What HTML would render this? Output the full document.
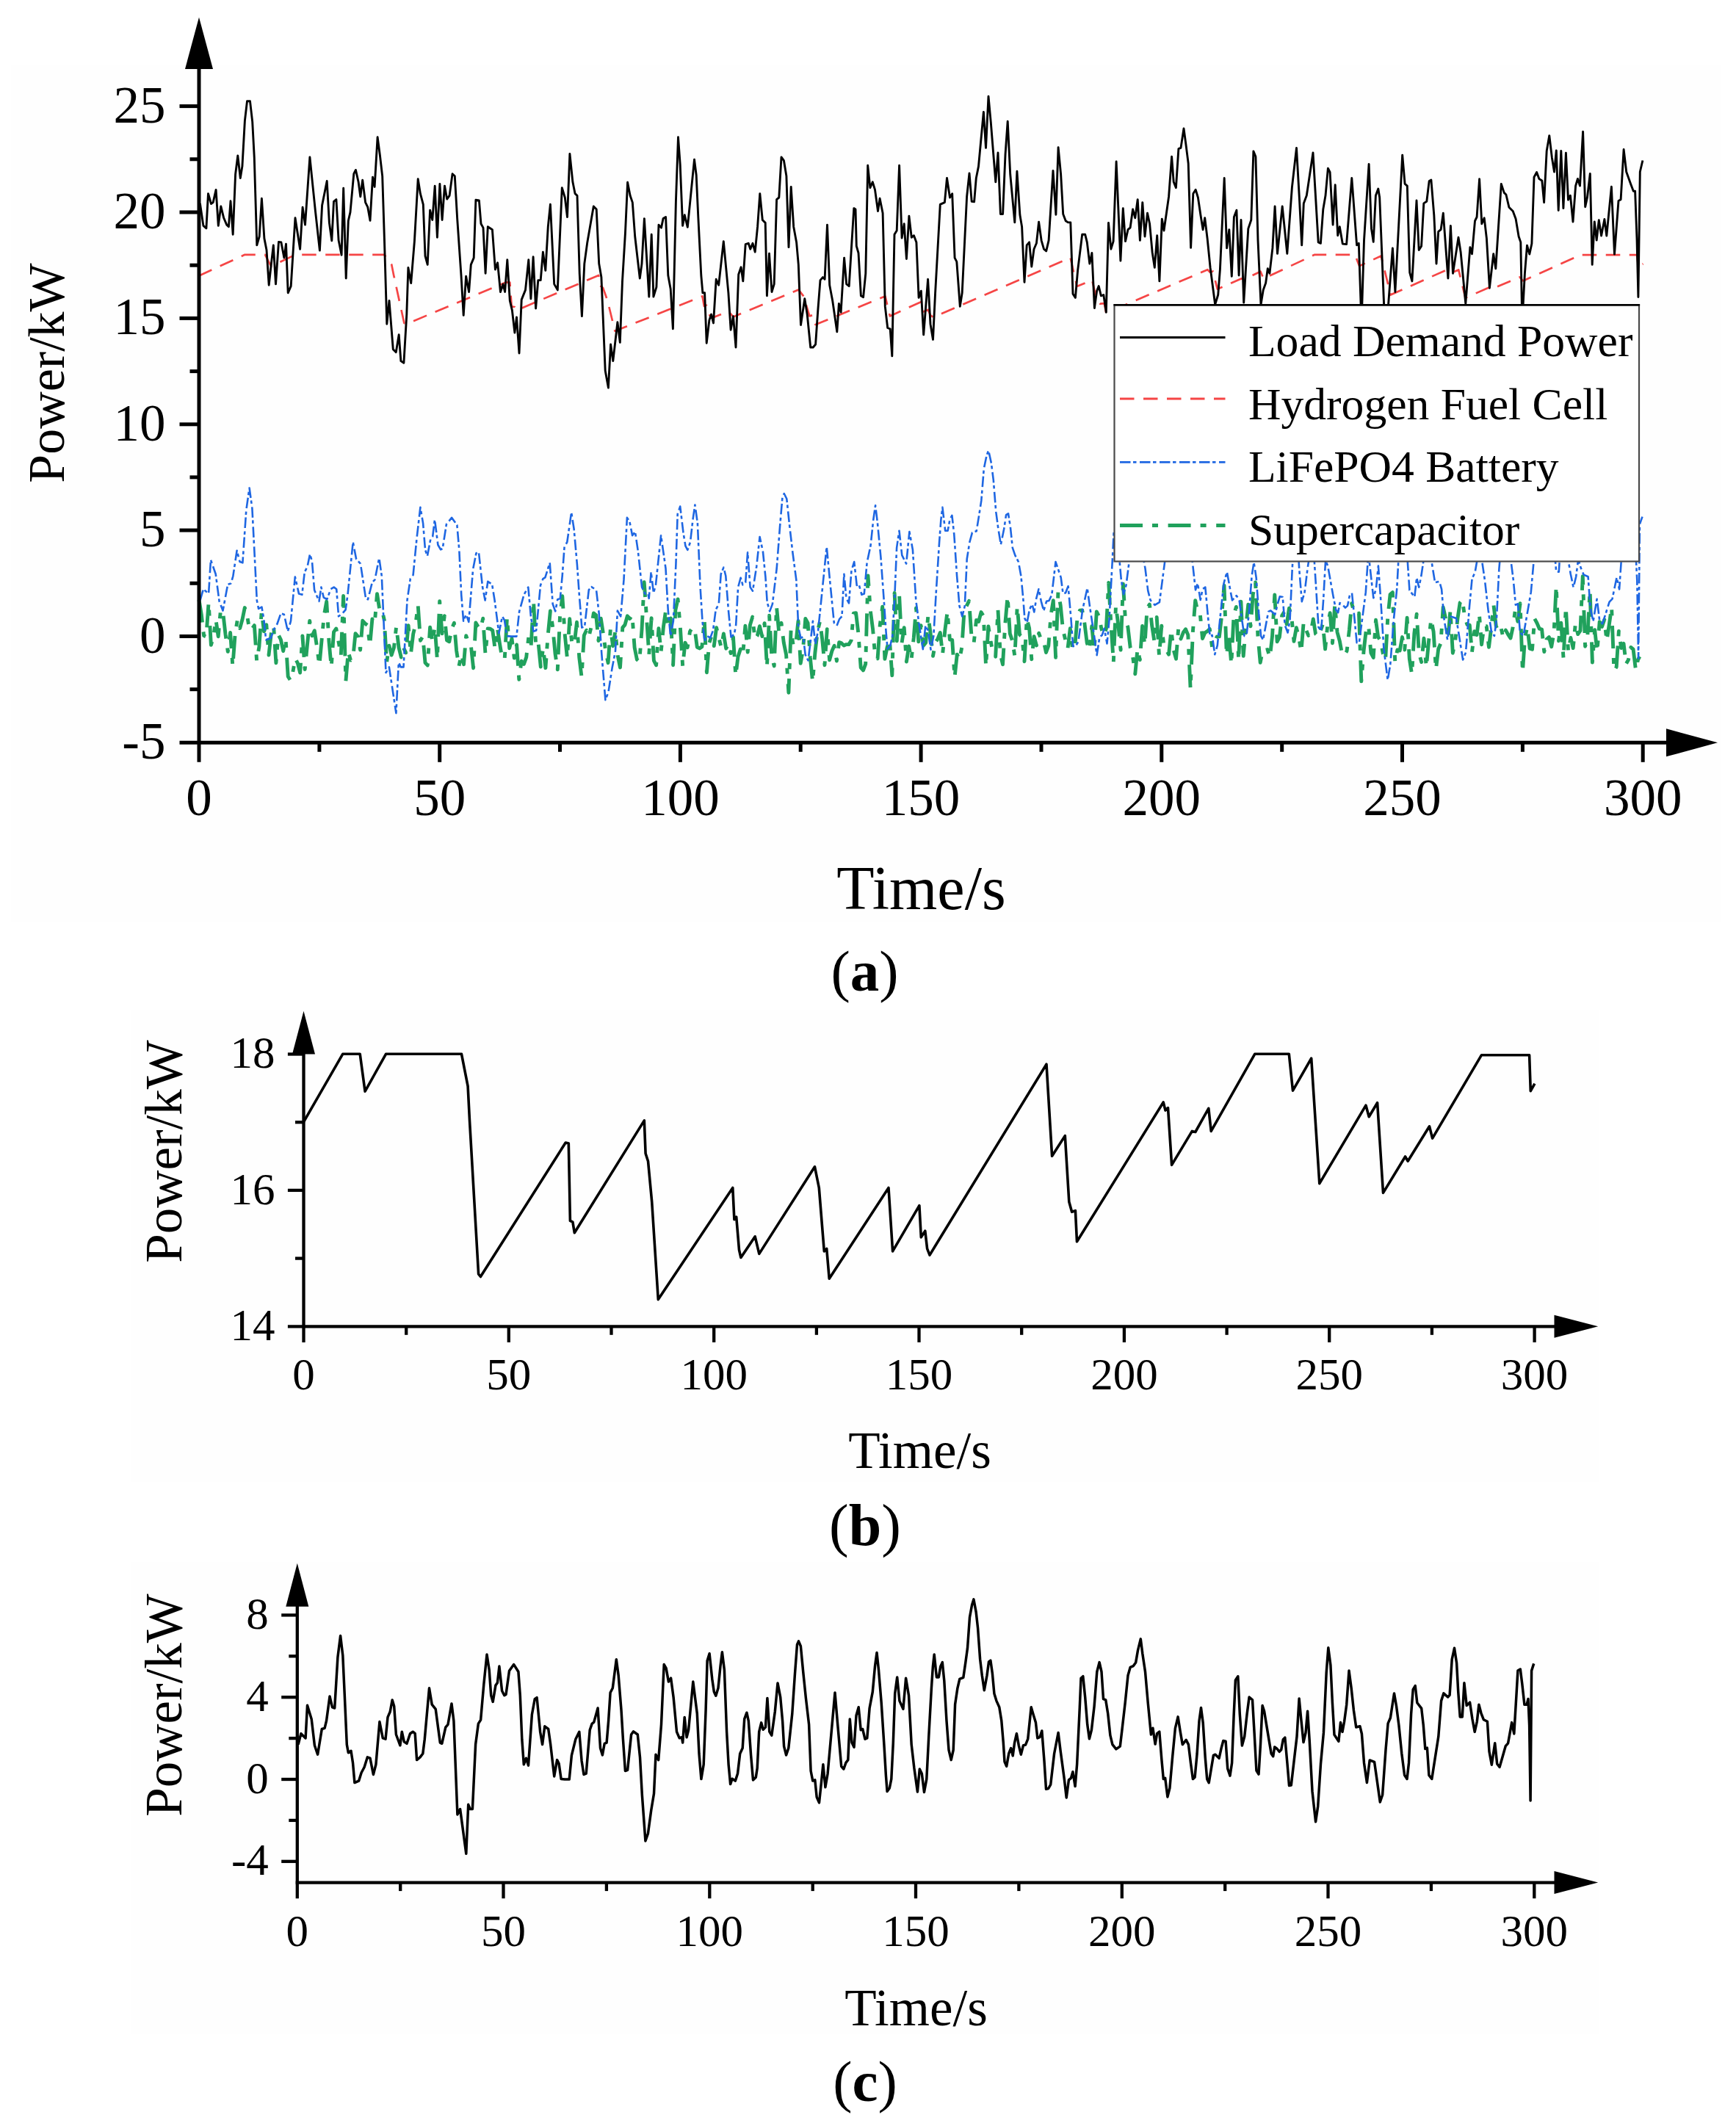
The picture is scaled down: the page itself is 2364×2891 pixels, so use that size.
<!DOCTYPE html>
<html lang="en"><head><meta charset="utf-8"><title>Power allocation</title>
<style>html,body{margin:0;padding:0;background:#fff;overflow:hidden}svg{display:block}</style></head>
<body>
<svg width="2364" height="2891" viewBox="0 0 2364 2891">
<rect width="2364" height="2891" fill="#fff"/>
<rect x="15" y="88" width="2328" height="1167" fill="#fefefe"/>
<rect x="179" y="1375" width="1998" height="643" fill="#fefefe"/>
<rect x="179" y="2127" width="1998" height="643" fill="#fefefe"/>
<g fill="none" stroke-linejoin="round">
<path d="M271.0,816.8 L274.3,836.9 L277.6,865.6 L280.8,867.1 L284.1,820.5 L287.4,878.4 L290.7,866.9 L293.9,843.6 L297.2,866.7 L300.5,830.3 L303.8,835.2 L307.0,863.6 L310.3,887.4 L313.6,861.5 L316.9,907.2 L320.2,863.0 L323.4,843.7 L326.7,855.5 L330.0,843.7 L333.3,827.6 L336.5,837.8 L339.8,858.2 L343.1,856.6 L346.4,851.7 L349.6,899.8 L352.9,880.6 L356.2,833.3 L359.5,859.9 L362.8,850.8 L366.0,892.0 L369.3,862.8 L372.6,852.3 L375.9,902.8 L379.1,864.4 L382.4,871.0 L385.7,886.6 L389.0,869.5 L392.2,921.2 L395.5,926.5 L398.8,915.2 L402.1,896.6 L405.4,903.2 L408.6,916.0 L411.9,866.0 L415.2,911.6 L418.5,877.6 L421.7,845.5 L425.0,865.9 L428.3,858.8 L431.6,881.1 L434.9,906.1 L438.1,871.4 L441.4,837.5 L444.7,819.1 L448.0,873.6 L451.2,908.2 L454.5,860.6 L457.8,856.0 L461.1,874.0 L464.3,892.8 L467.6,811.5 L470.9,927.6 L474.2,887.5 L477.5,899.1 L480.7,895.7 L484.0,862.7 L487.3,866.6 L490.6,885.0 L493.8,845.3 L497.1,849.0 L500.4,851.5 L503.7,878.9 L506.9,843.0 L510.2,848.9 L513.5,808.6 L516.8,829.9 L520.1,829.7 L523.3,844.4 L526.6,902.1 L529.9,879.1 L533.2,892.1 L536.4,882.1 L539.7,853.2 L543.0,881.6 L546.3,895.0 L549.5,882.2 L552.8,888.9 L556.1,851.6 L559.4,890.8 L562.7,863.3 L565.9,850.0 L569.2,824.0 L572.5,872.3 L575.8,866.8 L579.0,902.6 L582.3,905.9 L585.6,854.1 L588.9,874.2 L592.1,854.0 L595.4,898.1 L598.7,818.7 L602.0,862.8 L605.3,838.6 L608.5,871.9 L611.8,873.8 L615.1,856.6 L618.4,848.3 L621.6,886.0 L624.9,907.5 L628.2,891.0 L631.5,904.7 L634.7,865.6 L638.0,875.3 L641.3,878.9 L644.6,909.7 L647.9,848.0 L651.1,853.4 L654.4,856.3 L657.7,842.2 L661.0,890.7 L664.2,855.9 L667.5,856.2 L670.8,858.6 L674.1,883.5 L677.3,855.2 L680.6,877.2 L683.9,896.8 L687.2,897.0 L690.5,841.1 L693.7,882.7 L697.0,869.6 L700.3,896.1 L703.6,878.0 L706.8,925.3 L710.1,900.2 L713.4,904.4 L716.7,895.1 L719.9,867.0 L723.2,878.9 L726.5,817.8 L729.8,880.5 L733.1,875.9 L736.3,908.0 L739.6,882.6 L742.9,909.6 L746.2,864.6 L749.4,832.0 L752.7,853.9 L756.0,889.9 L759.3,911.9 L762.5,840.0 L765.8,811.8 L769.1,862.9 L772.4,896.2 L775.7,842.6 L778.9,877.8 L782.2,876.0 L785.5,847.3 L788.8,895.8 L792.0,921.4 L795.3,865.3 L798.6,858.2 L801.9,866.8 L805.2,853.4 L808.4,835.0 L811.7,837.6 L815.0,872.5 L818.3,842.3 L821.5,863.3 L824.8,886.7 L828.1,902.7 L831.4,855.8 L834.6,879.7 L837.9,859.5 L841.2,892.7 L844.5,908.9 L847.8,854.7 L851.0,850.9 L854.3,838.8 L857.6,842.5 L860.9,837.8 L864.1,881.8 L867.4,898.2 L870.7,901.1 L874.0,857.6 L877.2,792.8 L880.5,840.7 L883.8,891.2 L887.1,841.7 L890.4,899.6 L893.6,905.8 L896.9,855.8 L900.2,887.2 L903.5,853.1 L906.7,830.9 L910.0,853.5 L913.3,841.9 L916.6,905.7 L919.8,830.8 L923.1,815.9 L926.4,855.0 L929.7,907.3 L933.0,875.1 L936.2,881.7 L939.5,860.0 L942.8,854.6 L946.1,857.0 L949.3,881.2 L952.6,882.9 L955.9,880.7 L959.2,843.9 L962.4,915.7 L965.7,875.7 L969.0,866.2 L972.3,879.6 L975.6,854.6 L978.8,868.2 L982.1,881.3 L985.4,863.0 L988.7,883.2 L991.9,877.0 L995.2,889.6 L998.5,867.6 L1001.8,920.2 L1005.0,894.3 L1008.3,883.9 L1011.6,892.1 L1014.9,852.2 L1018.2,888.1 L1021.4,851.1 L1024.7,840.1 L1028.0,870.1 L1031.3,865.6 L1034.5,852.7 L1037.8,866.5 L1041.1,848.7 L1044.4,908.0 L1047.6,838.2 L1050.9,894.5 L1054.2,906.9 L1057.5,826.1 L1060.8,861.8 L1064.0,848.3 L1067.3,875.3 L1070.6,891.6 L1073.9,943.2 L1077.1,857.6 L1080.4,880.2 L1083.7,876.9 L1087.0,845.4 L1090.2,903.4 L1093.5,884.8 L1096.8,842.5 L1100.1,848.4 L1103.4,895.9 L1106.6,928.5 L1109.9,888.9 L1113.2,860.4 L1116.5,846.4 L1119.7,870.3 L1123.0,905.7 L1126.3,856.7 L1129.6,898.8 L1132.9,886.5 L1136.1,879.3 L1139.4,900.0 L1142.7,874.6 L1146.0,875.9 L1149.2,879.0 L1152.5,877.6 L1155.8,877.6 L1159.1,872.2 L1162.3,835.2 L1165.6,834.7 L1168.9,862.8 L1172.2,909.2 L1175.5,912.8 L1178.7,904.2 L1182.0,783.9 L1185.3,831.7 L1188.6,857.0 L1191.8,894.4 L1195.1,896.8 L1198.4,850.0 L1201.7,826.2 L1204.9,897.3 L1208.2,881.1 L1211.5,871.7 L1214.8,919.8 L1218.1,807.5 L1221.3,872.8 L1224.6,810.4 L1227.9,876.2 L1231.2,854.7 L1234.4,901.1 L1237.7,880.0 L1241.0,898.3 L1244.3,868.3 L1247.5,827.9 L1250.8,873.9 L1254.1,851.7 L1257.4,879.2 L1260.7,875.1 L1263.9,837.7 L1267.2,863.4 L1270.5,893.3 L1273.8,875.0 L1277.0,870.0 L1280.3,861.5 L1283.6,890.7 L1286.9,857.7 L1290.1,832.9 L1293.4,871.0 L1296.7,871.4 L1300.0,922.4 L1303.3,891.1 L1306.5,898.2 L1309.8,881.6 L1313.1,830.6 L1316.4,824.8 L1319.6,818.4 L1322.9,865.4 L1326.2,875.0 L1329.5,844.4 L1332.7,846.5 L1336.0,833.6 L1339.3,839.1 L1342.6,907.4 L1345.9,853.0 L1349.1,873.0 L1352.4,890.5 L1355.7,894.1 L1359.0,830.3 L1362.2,890.7 L1365.5,904.8 L1368.8,849.6 L1372.1,812.0 L1375.3,862.8 L1378.6,872.7 L1381.9,893.6 L1385.2,825.7 L1388.5,864.3 L1391.7,867.2 L1395.0,900.7 L1398.3,842.0 L1401.6,855.3 L1404.8,897.8 L1408.1,866.6 L1411.4,879.0 L1414.7,862.2 L1418.0,872.0 L1421.2,873.1 L1424.5,888.5 L1427.8,879.4 L1431.1,837.3 L1434.3,817.6 L1437.6,895.4 L1440.9,806.4 L1444.2,824.5 L1447.4,856.9 L1450.7,871.0 L1454.0,883.2 L1457.3,855.8 L1460.6,884.8 L1463.8,879.5 L1467.1,841.3 L1470.4,831.3 L1473.7,831.0 L1476.9,848.8 L1480.2,875.5 L1483.5,885.0 L1486.8,852.8 L1490.0,885.5 L1493.3,832.9 L1496.6,839.4 L1499.9,856.4 L1503.2,865.6 L1506.4,856.0 L1509.7,793.4 L1513.0,851.5 L1516.3,901.5 L1519.5,824.9 L1522.8,851.0 L1526.1,885.1 L1529.4,795.2 L1532.6,845.9 L1535.9,853.8 L1539.2,882.0 L1542.5,893.8 L1545.8,917.8 L1549.0,884.1 L1552.3,898.5 L1555.6,852.5 L1558.9,878.3 L1562.1,828.2 L1565.4,823.0 L1568.7,852.4 L1572.0,873.8 L1575.2,840.5 L1578.5,892.9 L1581.8,852.2 L1585.1,880.6 L1588.4,885.7 L1591.6,891.2 L1594.9,857.9 L1598.2,885.4 L1601.5,897.2 L1604.7,856.1 L1608.0,870.0 L1611.3,861.3 L1614.6,856.8 L1617.8,864.7 L1621.1,937.8 L1624.4,859.8 L1627.7,817.6 L1631.0,832.7 L1634.2,835.4 L1637.5,869.6 L1640.8,861.7 L1644.1,859.7 L1647.3,856.4 L1650.6,881.3 L1653.9,874.6 L1657.2,866.9 L1660.4,866.9 L1663.7,838.0 L1667.0,797.3 L1670.3,891.8 L1673.6,867.0 L1676.8,904.5 L1680.1,837.9 L1683.4,826.4 L1686.7,899.5 L1689.9,819.2 L1693.2,893.3 L1696.5,854.9 L1699.8,823.1 L1703.0,852.9 L1706.3,808.9 L1709.6,793.1 L1712.9,865.8 L1716.2,902.4 L1719.4,885.5 L1722.7,885.4 L1726.0,884.5 L1729.3,895.0 L1732.5,866.6 L1735.8,810.0 L1739.1,873.8 L1742.4,867.6 L1745.7,838.3 L1748.9,833.2 L1752.2,850.0 L1755.5,828.2 L1758.8,839.7 L1762.0,873.3 L1765.3,854.7 L1768.6,867.4 L1771.9,887.8 L1775.1,848.2 L1778.4,857.3 L1781.7,865.4 L1785.0,860.6 L1788.3,842.9 L1791.5,863.2 L1794.8,866.7 L1798.1,859.4 L1801.4,849.9 L1804.6,883.9 L1807.9,850.7 L1811.2,834.7 L1814.5,875.7 L1817.7,823.3 L1821.0,860.8 L1824.3,872.8 L1827.6,890.8 L1830.9,892.1 L1834.1,886.4 L1837.4,857.7 L1840.7,821.6 L1844.0,833.6 L1847.2,837.2 L1850.5,835.1 L1853.8,927.8 L1857.1,885.9 L1860.3,858.2 L1863.6,852.2 L1866.9,889.1 L1870.2,895.5 L1873.5,844.3 L1876.7,867.5 L1880.0,872.3 L1883.3,890.1 L1886.6,899.1 L1889.8,840.8 L1893.1,809.3 L1896.4,806.7 L1899.7,901.4 L1902.9,884.9 L1906.2,886.0 L1909.5,867.6 L1912.8,884.9 L1916.1,841.1 L1919.3,897.1 L1922.6,917.9 L1925.9,862.2 L1929.2,836.3 L1932.4,889.9 L1935.7,901.6 L1939.0,869.1 L1942.3,908.5 L1945.5,873.8 L1948.8,842.9 L1952.1,860.2 L1955.4,911.5 L1958.7,883.8 L1961.9,876.1 L1965.2,827.0 L1968.5,841.8 L1971.8,870.6 L1975.0,831.2 L1978.3,889.2 L1981.6,874.1 L1984.9,842.4 L1988.1,820.8 L1991.4,816.8 L1994.7,840.8 L1998.0,850.6 L2001.3,851.2 L2004.5,887.9 L2007.8,859.8 L2011.1,864.5 L2014.4,836.3 L2017.6,877.7 L2020.9,852.7 L2024.2,852.8 L2027.5,881.3 L2030.7,854.8 L2034.0,824.4 L2037.3,852.8 L2040.6,859.7 L2043.9,854.5 L2047.1,868.9 L2050.4,858.1 L2053.7,864.2 L2057.0,869.0 L2060.2,854.0 L2063.5,829.9 L2066.8,846.2 L2070.1,821.6 L2073.4,915.6 L2076.6,867.8 L2079.9,853.9 L2083.2,883.1 L2086.5,884.3 L2089.7,842.4 L2093.0,848.5 L2096.3,856.2 L2099.6,857.1 L2102.8,887.6 L2106.1,870.5 L2109.4,867.7 L2112.7,880.7 L2116.0,862.2 L2119.2,798.1 L2122.5,872.8 L2125.8,848.1 L2129.1,897.2 L2132.3,826.6 L2135.6,887.1 L2138.9,868.5 L2142.2,882.6 L2145.4,849.0 L2148.7,863.6 L2152.0,858.9 L2155.3,784.6 L2158.6,880.2 L2161.8,867.0 L2165.1,803.8 L2168.4,902.1 L2171.7,857.6 L2174.9,887.5 L2178.2,846.6 L2181.5,853.5 L2184.8,843.8 L2188.0,873.1 L2191.3,850.6 L2194.6,827.0 L2197.9,913.5 L2201.2,908.3 L2204.4,859.4 L2207.7,882.5 L2211.0,876.4 L2214.3,903.9 L2217.5,898.4 L2220.8,881.5 L2224.1,884.2 L2227.4,911.7 L2230.6,898.2 L2233.9,892.3 L2237.2,888.3" stroke="#20a15c" stroke-width="4.9" stroke-dasharray="31 13 8 13.6"/>
<path d="M272.6,817.5 L276.9,802.2 L284.1,808.6 L287.0,762.5 L293.7,781.7 L298.6,818.8 L303.5,831.6 L310.2,795.8 L314.5,794.5 L317.4,784.3 L322.6,749.7 L326.6,765.1 L330.4,766.3 L335.3,694.7 L339.6,664.5 L343.4,692.1 L346.3,748.4 L349.8,817.5 L352.1,829.0 L356.4,826.5 L359.3,843.1 L362.2,871.3 L368.8,868.7 L372.9,857.2 L377.5,849.5 L382.4,835.4 L386.8,836.7 L392.0,859.7 L396.0,845.7 L401.8,785.5 L407.0,808.6 L411.3,809.8 L414.8,779.1 L418.6,771.5 L422.0,754.8 L424.9,763.8 L428.1,803.4 L434.5,818.8 L437.4,799.6 L440.8,813.7 L445.2,816.2 L450.4,802.2 L454.7,799.6 L458.2,802.2 L461.1,839.3 L466.3,835.4 L470.6,830.3 L473.5,809.8 L480.7,738.2 L485.1,761.2 L490.9,767.6 L498.1,815.0 L501.0,816.2 L506.8,793.2 L510.5,789.4 L516.3,759.9 L519.8,784.3 L525.5,916.0 L529.9,908.4 L539.4,971.1 L542.9,902.0 L545.8,908.4 L549.5,908.4 L554.5,817.5 L558.8,788.1 L562.6,783.0 L567.5,733.1 L572.4,690.9 L576.1,712.6 L579.0,748.4 L581.9,757.4 L586.3,734.4 L589.2,730.5 L592.0,707.5 L596.4,742.0 L600.1,748.4 L602.7,747.1 L607.9,713.9 L615.2,704.9 L622.4,715.2 L625.3,748.4 L628.2,809.8 L631.1,845.7 L634.8,836.7 L638.3,846.9 L644.1,775.3 L648.4,753.5 L651.9,751.5 L657.1,799.6 L660.6,817.5 L664.3,791.9 L670.1,795.8 L673.6,817.5 L679.4,862.3 L684.0,839.3 L686.9,844.4 L690.3,866.1 L696.1,866.6 L703.4,866.6 L707.1,832.9 L713.5,809.8 L719.3,799.6 L723.0,840.5 L726.5,859.7 L730.2,858.5 L736.0,797.0 L739.5,788.1 L742.4,786.3 L748.7,766.3 L752.7,822.6 L756.2,832.4 L759.3,816.2 L762.8,815.0 L765.7,784.3 L768.6,744.6 L772.3,738.2 L778.1,697.8 L781.6,720.3 L785.9,768.9 L788.8,809.8 L792.3,854.6 L796.1,853.3 L801.8,803.4 L805.3,799.1 L812.0,803.4 L815.7,835.4 L819.2,889.2 L824.4,953.1 L828.4,942.9 L833.6,909.6 L838.0,886.6 L840.9,831.6 L845.2,839.3 L849.5,789.4 L853.9,704.9 L857.3,710.0 L861.1,729.2 L864.9,724.1 L868.9,751.0 L874.1,799.6 L878.5,808.6 L882.2,807.3 L883.7,815.0 L886.6,779.1 L890.0,807.3 L892.9,797.0 L900.1,729.2 L906.5,774.0 L909.7,830.3 L913.1,866.1 L916.9,845.7 L920.4,768.9 L922.7,699.8 L926.2,689.6 L930.5,725.4 L933.4,743.3 L936.3,748.9 L940.0,738.2 L943.5,707.5 L946.4,687.5 L949.9,712.6 L953.6,799.6 L956.5,845.7 L959.4,873.3 L962.3,865.6 L967.2,868.7 L971.0,858.5 L974.7,830.3 L978.8,822.6 L981.7,781.7 L985.4,772.7 L988.3,784.3 L992.1,832.9 L995.5,867.4 L999.9,863.6 L1002.2,850.8 L1005.1,799.6 L1008.6,786.8 L1011.4,796.5 L1015.2,793.2 L1018.1,752.3 L1021.6,799.6 L1025.0,804.7 L1030.2,771.5 L1034.6,731.0 L1038.9,751.0 L1042.4,785.5 L1044.7,820.1 L1048.2,832.4 L1051.9,822.6 L1057.7,774.0 L1062.0,717.7 L1065.5,676.8 L1067.8,672.2 L1071.3,679.3 L1075.1,715.2 L1079.4,752.3 L1084.3,789.4 L1087.2,854.6 L1090.4,868.7 L1093.8,867.4 L1096.7,891.7 L1100.5,899.4 L1104.0,871.3 L1106.9,845.7 L1110.3,877.7 L1114.1,858.5 L1125.7,744.6 L1130.0,789.4 L1135.8,848.2 L1139.5,852.1 L1143.0,843.1 L1146.5,839.3 L1149.4,781.7 L1152.5,815.0 L1156.0,821.4 L1159.5,776.6 L1163.2,765.1 L1166.7,797.0 L1169.6,795.8 L1173.4,809.8 L1176.8,808.6 L1180.6,766.3 L1185.5,743.3 L1189.3,707.5 L1192.1,688.3 L1195.0,712.6 L1199.4,758.7 L1203.7,817.5 L1206.6,861.0 L1208.6,883.5 L1212.4,878.9 L1215.3,866.1 L1218.2,815.0 L1221.1,745.9 L1224.5,722.8 L1228.3,756.1 L1234.1,767.6 L1238.4,724.1 L1242.9,748.4 L1247.3,817.5 L1251.6,850.8 L1256.8,884.1 L1260.3,852.1 L1263.7,858.5 L1267.5,884.6 L1271.3,866.1 L1274.7,807.3 L1279.1,738.2 L1281.4,707.5 L1283.4,690.9 L1287.2,722.8 L1290.6,722.8 L1293.5,707.5 L1296.4,701.9 L1299.3,728.0 L1303.1,784.3 L1306.5,825.2 L1310.3,839.3 L1313.8,825.2 L1316.7,761.2 L1320.4,738.2 L1323.9,725.4 L1329.7,723.3 L1333.1,702.4 L1336.3,681.9 L1339.8,638.4 L1343.5,620.5 L1346.1,613.3 L1349.9,630.7 L1352.8,653.7 L1356.3,697.2 L1359.4,720.3 L1362.9,741.3 L1367.2,720.3 L1370.1,701.1 L1373.0,699.3 L1375.9,717.7 L1378.8,745.9 L1382.3,756.1 L1386.9,765.1 L1390.4,784.3 L1393.3,815.0 L1395.3,841.8 L1398.5,848.2 L1401.9,830.3 L1405.4,822.6 L1408.3,833.4 L1411.2,815.0 L1414.4,802.2 L1417.8,818.8 L1421.3,831.6 L1425.1,818.8 L1428.5,818.0 L1432.3,809.8 L1437.5,765.1 L1441.0,775.3 L1444.7,786.3 L1447.6,808.6 L1451.1,807.3 L1454.6,798.3 L1458.3,840.5 L1461.2,880.2 L1465.0,879.4 L1468.4,873.8 L1474.2,830.3 L1480.6,800.9 L1484.3,827.8 L1490.1,866.1 L1493.6,892.2 L1497.4,867.4 L1500.8,864.9 L1503.7,855.9 L1507.5,876.4 L1510.4,845.7 L1514.7,765.1 L1516.7,724.1 L1519.9,721.6 L1523.4,751.0 L1526.8,789.4 L1530.0,809.3 L1533.5,797.0 L1537.8,763.8 L1542.2,715.2 L1545.9,701.9 L1549.4,715.2 L1552.3,753.5 L1556.0,754.8 L1559.5,774.0 L1563.3,804.7 L1566.7,817.5 L1572.5,823.9 L1578.9,820.1 L1581.8,798.3 L1587.0,758.7 L1591.3,720.3 L1595.1,708.8 L1600.0,707.0 L1603.7,702.4 L1607.2,684.5 L1611.6,669.1 L1614.4,689.6 L1618.8,715.2 L1623.1,758.7 L1628.0,803.4 L1630.9,794.5 L1634.7,817.0 L1637.6,802.2 L1641.3,799.6 L1644.8,838.0 L1647.7,866.1 L1650.6,864.9 L1654.3,891.2 L1657.8,878.9 L1662.1,835.4 L1666.5,794.5 L1670.8,778.6 L1674.6,799.6 L1678.0,817.5 L1683.8,811.1 L1687.6,817.5 L1691.1,843.1 L1694.5,866.1 L1697.7,863.6 L1701.2,830.3 L1704.6,784.3 L1707.5,765.8 L1710.7,786.8 L1714.2,835.4 L1717.1,866.1 L1720.0,871.3 L1723.4,853.3 L1727.2,832.9 L1730.3,831.5 L1736.3,836.8 L1739.8,822.3 L1742.8,812.2 L1746.7,813.0 L1749.7,851.4 L1753.6,861.5 L1756.6,843.5 L1759.6,777.3 L1762.3,726.9 L1766.2,721.6 L1769.2,774.6 L1772.8,819.1 L1776.6,806.4 L1780.5,774.6 L1784.1,750.8 L1789.2,754.8 L1792.2,801.1 L1795.5,854.1 L1799.1,859.4 L1802.1,817.0 L1805.1,762.7 L1808.1,770.6 L1811.7,790.5 L1815.5,811.7 L1819.1,830.2 L1822.1,834.2 L1824.5,821.0 L1828.4,823.6 L1832.0,827.6 L1835.0,824.9 L1838.0,810.4 L1841.0,807.7 L1844.6,843.5 L1847.6,875.2 L1850.9,874.7 L1855.3,840.8 L1859.8,806.4 L1863.4,752.9 L1866.4,779.9 L1870.3,814.3 L1873.9,801.1 L1876.9,770.6 L1879.9,811.7 L1884.4,883.2 L1889.7,926.1 L1893.3,904.4 L1897.8,844.8 L1902.3,801.1 L1906.8,716.4 L1909.8,681.4 L1913.4,705.8 L1916.4,758.7 L1919.4,803.7 L1926.3,813.0 L1929.2,786.5 L1932.2,799.8 L1935.2,785.2 L1938.8,761.4 L1942.7,713.7 L1946.3,737.5 L1950.2,769.3 L1954.1,793.1 L1960.1,791.8 L1963.1,802.4 L1966.6,843.5 L1971.1,871.3 L1975.6,839.5 L1983.1,842.1 L1987.6,869.9 L1992.1,898.5 L1996.0,888.5 L2001.1,824.9 L2004.6,787.9 L2008.5,779.9 L2014.5,745.5 L2018.1,764.0 L2022.0,790.5 L2026.5,830.2 L2031.0,860.7 L2034.9,866.0 L2037.9,843.5 L2041.4,774.6 L2044.4,740.2 L2048.0,734.9 L2051.0,758.7 L2057.9,766.7 L2060.9,790.5 L2063.9,823.6 L2066.9,822.3 L2069.9,860.7 L2074.4,866.0 L2078.8,840.8 L2084.8,806.4 L2089.3,756.1 L2093.2,745.5 L2099.8,750.8 L2102.8,748.1 L2106.4,697.8 L2110.3,681.9 L2113.9,703.1 L2116.2,742.8 L2119.2,778.6 L2122.8,778.6 L2125.8,730.9 L2129.7,762.7 L2134.8,758.2 L2138.7,781.2 L2142.6,799.8 L2146.2,785.2 L2149.2,761.4 L2152.7,773.3 L2156.6,782.6 L2162.6,785.2 L2165.6,827.6 L2169.5,846.1 L2174.6,815.7 L2178.2,844.8 L2182.1,849.3 L2186.6,835.5 L2191.6,819.6 L2195.5,815.7 L2201.5,786.5 L2205.1,802.4 L2209.0,745.5 L2211.1,713.7 L2215.0,711.6 L2218.0,732.2 L2221.6,761.4 L2225.5,761.4 L2227.5,753.4 L2229.3,790.5 L2231.1,896.4 L2232.9,713.7 L2236.5,703.6" stroke="#1e66e2" stroke-width="2.6" stroke-dasharray="14.5 3.5 4.5 4.5"/>
<path d="M270.6,375.7 L333.4,346.8 L361.0,346.8 L369.1,362.5 L402.4,346.8 L523.2,346.8 L533.3,360.4 L536.2,374.9 L550.4,440.0 L553.6,441.1 L689.4,384.3 L694.3,384.6 L696.7,417.4 L700.8,418.0 L703.6,422.5 L815.1,374.9 L817.1,388.9 L821.2,392.1 L827.3,409.4 L837.4,450.8 L956.5,403.4 L958.9,416.9 L962.1,415.8 L966.6,429.8 L969.4,433.0 L992.1,424.1 L998.6,431.4 L1087.4,394.5 L1094.3,403.4 L1102.4,430.4 L1106.5,429.3 L1110.5,442.0 L1205.4,403.4 L1211.9,430.4 L1254.5,411.0 L1257.3,424.4 L1263.8,421.7 L1267.0,429.3 L1271.1,432.0 L1457.6,351.0 L1466.5,390.0 L1487.2,381.4 L1493.7,409.4 L1498.1,413.7 L1503.8,413.1 L1506.3,426.3 L1644.4,367.2 L1647.6,370.6 L1651.7,369.5 L1657.8,393.7 L1690.2,379.4 L1695.5,379.8 L1716.5,369.7 L1720.6,379.4 L1790.3,346.8 L1845.1,346.8 L1851.1,362.2 L1880.7,348.5 L1893.7,401.6 L1967.9,368.4 L1972.8,373.3 L1986.2,367.4 L1995.5,405.6 L2030.8,390.2 L2034.8,392.1 L2069.3,377.4 L2074.1,382.4 L2152.6,347.1 L2229.0,347.1 L2231.0,362.4 L2237.5,359.3" stroke="#f54545" stroke-width="2.7" stroke-dasharray="19.5 12.5"/>
<path d="M272.4,276.9 L276.9,307.4 L280.9,310.9 L283.5,263.7 L287.5,277.5 L290.2,275.6 L294.1,258.4 L297.3,307.4 L300.8,280.9 L304.7,296.8 L308.7,306.1 L311.4,308.7 L314.0,273.8 L317.2,319.3 L320.6,237.2 L323.8,212.0 L327.3,242.5 L329.9,226.6 L333.4,164.3 L336.5,137.8 L340.5,137.8 L343.7,165.6 L346.3,214.7 L349.8,333.9 L353.2,322.0 L356.4,270.3 L359.9,324.6 L363.0,340.5 L366.2,388.2 L369.7,356.4 L372.3,333.9 L375.5,386.9 L379.5,329.4 L382.9,329.9 L386.9,351.1 L389.5,332.1 L392.2,398.8 L396.2,389.6 L402.0,296.8 L408.6,339.2 L412.1,282.2 L415.5,306.1 L421.9,213.9 L429.3,286.2 L435.4,341.1 L438.6,279.6 L445.2,246.5 L448.4,303.4 L451.8,327.8 L454.5,274.3 L457.9,271.6 L461.1,327.3 L465.1,347.2 L467.7,256.3 L471.2,379.0 L474.3,300.8 L477.0,288.9 L481.8,236.7 L484.4,231.4 L488.1,247.8 L490.8,267.7 L493.7,245.1 L497.6,275.6 L500.8,282.2 L504.0,300.3 L507.5,241.2 L510.1,254.4 L514.1,186.8 L517.3,210.7 L520.7,239.8 L523.4,324.6 L526.8,441.2 L530.0,409.4 L535.3,475.7 L539.3,479.6 L543.2,455.8 L545.9,491.6 L549.9,494.2 L553.8,428.0 L555.9,364.4 L559.7,385.6 L564.4,328.6 L569.2,243.8 L572.4,263.7 L576.3,278.3 L579.0,348.5 L582.2,360.4 L585.6,286.2 L588.8,299.5 L592.2,253.1 L595.4,323.3 L598.9,250.4 L602.1,299.5 L605.5,253.1 L608.7,271.1 L612.1,266.3 L616.1,236.7 L619.3,239.8 L622.7,298.1 L628.0,375.0 L631.2,429.3 L634.6,376.3 L638.6,397.5 L641.3,360.4 L645.2,351.1 L647.9,272.2 L652.4,273.0 L655.0,304.8 L658.0,310.1 L661.1,372.3 L664.3,308.7 L670.4,312.7 L674.4,367.0 L677.6,357.8 L681.5,397.5 L685.0,386.9 L687.6,397.5 L690.8,353.8 L694.3,409.4 L697.4,422.7 L700.9,453.1 L703.5,431.9 L707.0,481.0 L710.2,408.1 L715.5,394.9 L719.8,353.8 L722.9,406.8 L726.1,349.8 L729.6,420.0 L732.8,381.6 L736.2,381.6 L739.4,343.2 L742.8,368.4 L746.3,308.7 L749.4,278.3 L754.7,386.9 L759.3,394.9 L765.3,255.7 L769.3,269.0 L772.5,295.5 L775.9,209.4 L779.9,247.8 L783.1,263.7 L786.0,266.3 L789.2,372.3 L792.4,430.6 L795.8,359.1 L799.8,329.9 L808.3,280.9 L812.2,284.9 L815.7,359.1 L818.9,377.6 L824.2,504.8 L828.4,528.1 L831.6,469.0 L834.8,491.6 L840.9,438.6 L844.3,466.4 L847.5,382.9 L851.5,316.7 L854.6,248.3 L858.1,266.3 L861.3,275.6 L864.7,322.0 L871.3,379.0 L874.0,359.1 L877.4,297.6 L883.8,404.1 L887.2,319.3 L889.9,404.1 L893.9,390.9 L897.0,306.1 L900.5,310.1 L903.1,297.6 L906.6,295.5 L909.8,375.0 L913.2,393.5 L916.4,447.8 L920.4,274.3 L923.5,186.8 L926.2,223.9 L929.6,307.4 L932.3,292.8 L936.3,309.3 L945.5,217.3 L948.2,238.5 L950.8,295.5 L954.8,375.0 L956.9,398.8 L959.6,398.8 L962.2,467.2 L965.9,435.9 L968.6,428.0 L971.5,439.9 L975.2,380.3 L978.7,388.2 L985.3,328.6 L991.9,398.8 L995.1,449.2 L998.5,430.6 L1002.0,473.0 L1005.7,373.7 L1009.1,363.8 L1011.8,382.9 L1015.2,332.6 L1019.2,331.3 L1021.8,339.2 L1025.0,331.3 L1028.2,343.2 L1031.6,308.7 L1034.8,263.7 L1038.3,299.5 L1042.2,303.4 L1044.4,402.8 L1047.5,345.3 L1051.0,397.5 L1054.2,386.9 L1057.6,271.6 L1060.8,269.0 L1064.0,213.9 L1067.4,218.6 L1070.9,239.8 L1074.0,336.6 L1077.2,254.4 L1080.7,308.7 L1084.6,329.9 L1087.3,360.4 L1090.5,442.5 L1095.8,406.8 L1099.2,428.0 L1103.7,473.0 L1107.2,473.0 L1110.6,469.0 L1113.8,422.7 L1117.0,381.6 L1120.4,377.6 L1123.1,380.3 L1126.5,306.1 L1129.7,388.2 L1133.7,409.4 L1139.8,451.8 L1142.4,413.4 L1145.1,425.3 L1149.6,351.1 L1152.7,386.9 L1156.2,389.6 L1162.8,283.6 L1165.0,284.9 L1166.3,335.2 L1169.0,344.5 L1172.4,402.8 L1175.6,404.7 L1178.8,372.3 L1181.7,225.3 L1184.9,255.7 L1188.3,247.8 L1191.5,258.4 L1195.5,287.5 L1198.1,270.3 L1202.1,290.2 L1205.3,417.4 L1208.7,446.5 L1212.2,447.8 L1214.8,484.9 L1218.0,319.3 L1221.2,314.0 L1224.6,225.3 L1228.1,324.1 L1231.2,304.8 L1234.4,352.5 L1237.9,294.2 L1241.3,323.3 L1244.5,320.7 L1247.9,329.9 L1251.1,405.4 L1254.3,396.2 L1257.7,455.8 L1263.6,380.3 L1267.0,441.2 L1270.5,462.4 L1273.6,398.8 L1280.3,278.3 L1286.4,275.6 L1289.5,242.5 L1293.5,269.0 L1296.7,263.7 L1300.1,351.1 L1302.8,356.4 L1307.3,417.4 L1310.2,398.8 L1316.6,267.7 L1320.0,235.9 L1323.2,274.3 L1326.6,274.8 L1329.3,242.5 L1332.5,226.6 L1339.4,152.4 L1342.5,201.4 L1346.0,131.2 L1349.2,165.6 L1352.3,204.1 L1355.8,247.8 L1359.0,208.0 L1362.4,291.5 L1365.6,291.5 L1369.0,210.7 L1372.2,165.1 L1375.7,237.2 L1381.8,302.9 L1384.9,233.2 L1388.9,292.8 L1391.6,308.7 L1395.0,384.3 L1398.2,333.9 L1401.6,329.9 L1404.8,363.1 L1408.0,339.2 L1411.4,331.3 L1414.6,302.1 L1418.1,327.3 L1421.5,339.2 L1424.7,341.9 L1428.1,327.3 L1434.0,232.4 L1437.9,292.3 L1441.1,200.6 L1444.6,237.2 L1447.7,291.5 L1451.2,300.8 L1454.4,302.9 L1457.8,302.9 L1461.0,400.1 L1464.4,405.4 L1467.6,368.4 L1473.7,319.3 L1477.7,319.3 L1480.3,329.9 L1483.8,359.1 L1486.9,344.5 L1490.4,419.5 L1493.6,396.2 L1496.2,389.6 L1499.4,402.8 L1502.8,401.5 L1506.3,425.3 L1509.5,303.4 L1512.9,339.2 L1516.1,328.6 L1520.1,220.0 L1525.9,355.1 L1529.3,283.6 L1532.5,328.6 L1536.0,312.7 L1539.1,310.1 L1542.6,284.9 L1545.8,296.8 L1549.2,271.6 L1552.4,327.3 L1555.8,275.6 L1559.0,322.0 L1562.5,290.2 L1565.6,304.8 L1569.1,343.2 L1572.3,364.4 L1575.7,320.7 L1578.9,382.9 L1582.3,298.1 L1585.0,314.0 L1591.6,267.7 L1595.6,213.3 L1598.2,247.8 L1601.4,255.7 L1604.9,202.7 L1608.0,201.4 L1612.0,174.9 L1615.0,197.4 L1618.2,222.6 L1621.6,337.4 L1624.8,263.7 L1628.2,258.4 L1631.4,269.0 L1634.9,292.8 L1638.1,312.7 L1640.7,296.8 L1644.1,324.6 L1648.1,364.4 L1654.7,414.7 L1658.7,401.5 L1661.4,367.0 L1667.2,242.5 L1670.6,337.9 L1673.8,312.7 L1677.3,376.3 L1680.4,295.5 L1683.9,286.2 L1687.1,375.0 L1690.0,299.5 L1693.7,412.1 L1699.8,311.4 L1703.8,299.5 L1706.9,205.9 L1709.9,213.3 L1713.0,327.3 L1717.0,414.7 L1720.2,394.9 L1723.6,385.6 L1726.3,365.7 L1728.9,372.3 L1732.9,337.9 L1736.1,280.9 L1739.5,345.3 L1746.2,280.9 L1752.8,345.3 L1759.4,255.2 L1765.5,201.4 L1769.5,271.6 L1772.7,333.9 L1775.3,276.9 L1779.3,266.3 L1788.0,208.0 L1795.2,329.9 L1798.4,331.3 L1801.8,284.9 L1805.0,266.3 L1808.4,229.2 L1811.1,234.5 L1815.1,306.1 L1818.2,251.8 L1821.7,320.7 L1824.3,308.7 L1828.3,332.1 L1833.6,332.6 L1840.8,242.5 L1847.6,333.9 L1850.3,331.3 L1854.0,441.2 L1857.5,327.3 L1864.1,223.4 L1867.5,311.4 L1870.2,329.4 L1873.4,266.3 L1876.8,257.1 L1878.7,269.0 L1885.8,443.9 L1890.6,414.7 L1896.4,337.9 L1899.9,397.5 L1909.7,211.2 L1913.1,250.4 L1916.3,253.1 L1919.7,371.0 L1922.9,382.9 L1929.0,273.0 L1932.2,340.5 L1935.6,335.2 L1938.8,276.9 L1942.8,274.3 L1946.2,246.5 L1948.9,245.1 L1952.8,292.8 L1956.0,359.1 L1958.7,315.4 L1962.1,312.7 L1965.3,290.2 L1971.9,379.0 L1975.4,307.4 L1978.5,372.3 L1986.0,323.3 L1989.1,343.2 L1995.8,413.4 L2001.9,336.6 L2004.5,345.8 L2008.5,300.8 L2011.1,295.5 L2014.6,243.8 L2017.8,304.8 L2021.2,296.8 L2024.4,324.6 L2028.4,392.2 L2033.7,345.8 L2036.8,365.7 L2044.3,250.4 L2048.2,262.4 L2050.9,265.0 L2054.9,282.2 L2060.2,287.5 L2064.1,298.1 L2068.1,322.0 L2070.8,329.9 L2072.8,439.1 L2076.4,372.3 L2079.5,334.2 L2082.8,346.1 L2085.9,331.8 L2089.0,241.2 L2092.6,234.5 L2095.9,243.5 L2099.8,245.9 L2102.6,275.7 L2106.2,205.4 L2109.8,184.6 L2113.4,214.9 L2116.5,234.0 L2119.3,204.9 L2122.2,286.5 L2125.8,205.4 L2128.9,283.6 L2132.4,208.3 L2135.5,272.2 L2138.4,266.2 L2142.0,302.0 L2145.6,253.1 L2148.4,243.5 L2151.5,253.1 L2155.6,179.2 L2158.7,281.7 L2161.5,268.6 L2165.3,236.4 L2168.2,360.4 L2171.3,302.0 L2174.2,327.0 L2177.3,299.6 L2180.6,321.1 L2184.9,298.4 L2187.8,321.1 L2194.4,254.3 L2198.5,346.1 L2204.0,273.4 L2207.1,271.7 L2211.1,203.5 L2214.7,234.0 L2220.7,250.7 L2224.3,260.2 L2226.6,260.2 L2229.0,324.6 L2230.9,404.5 L2233.3,234.0 L2236.9,218.5" stroke="#000" stroke-width="2.9" stroke-linejoin="round"/>
</g>
<g stroke="#000" stroke-width="5.0" fill="none">
<path d="M271.0,91.0 V1037.8"/>
<path d="M244.5,1011.3 H2272.0"/>
<path d="M244.5,866.5 H271.0"/>
<path d="M244.5,722.1 H271.0"/>
<path d="M244.5,577.8 H271.0"/>
<path d="M244.5,433.4 H271.0"/>
<path d="M244.5,289.0 H271.0"/>
<path d="M244.5,144.6 H271.0"/>
<path d="M258.5,938.7 H271.0"/>
<path d="M258.5,794.3 H271.0"/>
<path d="M258.5,649.9 H271.0"/>
<path d="M258.5,505.6 H271.0"/>
<path d="M258.5,361.2 H271.0"/>
<path d="M258.5,216.8 H271.0"/>
<path d="M434.9,1011.3 V1023.8"/>
<path d="M598.7,1011.3 V1037.8"/>
<path d="M762.5,1011.3 V1023.8"/>
<path d="M926.4,1011.3 V1037.8"/>
<path d="M1090.2,1011.3 V1023.8"/>
<path d="M1254.1,1011.3 V1037.8"/>
<path d="M1418.0,1011.3 V1023.8"/>
<path d="M1581.8,1011.3 V1037.8"/>
<path d="M1745.7,1011.3 V1023.8"/>
<path d="M1909.5,1011.3 V1037.8"/>
<path d="M2073.4,1011.3 V1023.8"/>
<path d="M2237.2,1011.3 V1037.8"/>
</g>
<path d="M271.0,23.5 L252.0,94.0 L290.0,94.0 Z" fill="#000"/>
<path d="M2339.0,1011.3 L2269.0,992.3 L2269.0,1030.3 Z" fill="#000"/>
<g font-family="&quot;Liberation Serif&quot;, serif" font-size="71.0" fill="#000">
<text x="225.5" y="1032.9" text-anchor="end">-5</text>
<text x="225.5" y="888.5" text-anchor="end">0</text>
<text x="225.5" y="744.1" text-anchor="end">5</text>
<text x="225.5" y="599.7" text-anchor="end">10</text>
<text x="225.5" y="455.4" text-anchor="end">15</text>
<text x="225.5" y="311.0" text-anchor="end">20</text>
<text x="225.5" y="166.6" text-anchor="end">25</text>
<text x="271.0" y="1110.3" text-anchor="middle">0</text>
<text x="598.7" y="1110.3" text-anchor="middle">50</text>
<text x="926.4" y="1110.3" text-anchor="middle">100</text>
<text x="1254.1" y="1110.3" text-anchor="middle">150</text>
<text x="1581.8" y="1110.3" text-anchor="middle">200</text>
<text x="1909.5" y="1110.3" text-anchor="middle">250</text>
<text x="2237.2" y="1110.3" text-anchor="middle">300</text>
</g>
<rect x="1517.5" y="415.5" width="714.5" height="349" fill="#fff" stroke="#4a4a4a" stroke-width="2.2"/>
<path d="M1516.4,415.3 H2233.1" stroke="#000" stroke-width="2.6" fill="none"/>
<g fill="none">
<path d="M1525,459.4 H1668.5" stroke="#000" stroke-width="3"/>
<path d="M1525,543 H1668.5" stroke="#f54545" stroke-width="3" stroke-dasharray="19.5 12.5"/>
<path d="M1525,629.4 H1668.5" stroke="#1e66e2" stroke-width="2.6" stroke-dasharray="14.5 3.5 4.5 4.5"/>
<path d="M1525,715.4 H1668.5" stroke="#20a15c" stroke-width="5" stroke-dasharray="31 13 8 13.6"/>
</g>
<g font-family="&quot;Liberation Serif&quot;, serif" font-size="61.6" fill="#000">
<text x="1700" y="485.0">Load Demand Power</text>
<text x="1700" y="570.6">Hydrogen Fuel Cell</text>
<text x="1700" y="656.2">LiFePO4 Battery</text>
<text x="1700" y="741.8">Supercapacitor</text>
</g>
<text font-family="&quot;Liberation Serif&quot;, serif" font-size="70" text-anchor="middle" transform="translate(86.5,508) rotate(-90)">Power/kW</text>
<text font-family="&quot;Liberation Serif&quot;, serif" font-size="84" text-anchor="middle" x="1254.5" y="1237.5">Time/s</text>
<text font-family="&quot;Liberation Serif&quot;, serif" font-size="79" text-anchor="middle" x="1177.5" y="1349">(<tspan font-weight="bold">a</tspan>)</text>
<path d="M413.2,1528.3 L466.7,1435.3 L490.2,1435.3 L497.1,1486.2 L525.5,1435.3 L628.5,1435.3 L637.1,1479.2 L639.5,1525.9 L651.6,1735.0 L654.4,1738.5 L770.2,1556.0 L774.3,1557.0 L776.4,1662.4 L779.9,1664.1 L782.3,1678.7 L877.3,1525.9 L879.1,1570.8 L882.5,1581.2 L887.7,1636.5 L896.3,1769.6 L997.8,1617.5 L999.9,1660.7 L1002.7,1657.2 L1006.5,1702.2 L1008.9,1712.5 L1028.2,1683.8 L1033.8,1707.4 L1109.5,1588.8 L1115.3,1617.5 L1122.3,1703.9 L1125.7,1700.4 L1129.2,1741.2 L1210.0,1617.5 L1215.6,1703.9 L1251.9,1641.7 L1254.3,1684.9 L1259.8,1676.2 L1262.6,1700.4 L1266.0,1709.1 L1425.0,1449.2 L1432.6,1574.3 L1450.3,1546.6 L1455.8,1636.5 L1459.6,1650.3 L1464.4,1648.6 L1466.5,1690.8 L1584.2,1501.0 L1587.0,1512.1 L1590.5,1508.6 L1595.6,1586.4 L1623.3,1540.4 L1627.8,1541.5 L1645.8,1509.3 L1649.2,1540.4 L1708.7,1435.3 L1755.3,1435.3 L1760.5,1485.1 L1785.7,1441.2 L1796.8,1611.6 L1860.0,1505.2 L1864.2,1520.7 L1875.6,1501.7 L1883.5,1624.4 L1913.6,1575.0 L1917.1,1581.2 L1946.5,1533.8 L1950.6,1550.1 L2017.5,1436.7 L2082.6,1436.7 L2084.3,1485.6 L2089.9,1475.7" fill="none" stroke="#000" stroke-width="3.6" stroke-linejoin="round"/>
<g stroke="#000" stroke-width="4.3" fill="none">
<path d="M413.5,1432.5 V1827.9"/>
<path d="M391.9,1806.3 H2119.5"/>
<path d="M402.0,1713.6 H413.5"/>
<path d="M391.9,1620.9 H413.5"/>
<path d="M402.0,1528.2 H413.5"/>
<path d="M391.9,1435.5 H413.5"/>
<path d="M553.2,1806.3 V1817.8"/>
<path d="M692.8,1806.3 V1827.9"/>
<path d="M832.5,1806.3 V1817.8"/>
<path d="M972.2,1806.3 V1827.9"/>
<path d="M1111.9,1806.3 V1817.8"/>
<path d="M1251.5,1806.3 V1827.9"/>
<path d="M1391.2,1806.3 V1817.8"/>
<path d="M1530.9,1806.3 V1827.9"/>
<path d="M1670.6,1806.3 V1817.8"/>
<path d="M1810.2,1806.3 V1827.9"/>
<path d="M1949.9,1806.3 V1817.8"/>
<path d="M2089.6,1806.3 V1827.9"/>
</g>
<path d="M413.5,1376.7 L398.0,1435.5 L429.0,1435.5 Z" fill="#000"/>
<path d="M2176.2,1806.3 L2116.5,1790.8 L2116.5,1821.8 Z" fill="#000"/>
<g font-family="&quot;Liberation Serif&quot;, serif" font-size="61.0" fill="#000">
<text x="374.5" y="1824.9" text-anchor="end">14</text>
<text x="374.5" y="1639.5" text-anchor="end">16</text>
<text x="374.5" y="1454.1" text-anchor="end">18</text>
<text x="413.5" y="1891.6" text-anchor="middle">0</text>
<text x="692.8" y="1891.6" text-anchor="middle">50</text>
<text x="972.2" y="1891.6" text-anchor="middle">100</text>
<text x="1251.5" y="1891.6" text-anchor="middle">150</text>
<text x="1530.9" y="1891.6" text-anchor="middle">200</text>
<text x="1810.2" y="1891.6" text-anchor="middle">250</text>
<text x="2089.6" y="1891.6" text-anchor="middle">300</text>
</g>
<text font-family="&quot;Liberation Serif&quot;, serif" font-size="71" text-anchor="middle" transform="translate(247,1568) rotate(-90)">Power/kW</text>
<text font-family="&quot;Liberation Serif&quot;, serif" font-size="71" text-anchor="middle" x="1252.5" y="1999.3">Time/s</text>
<text font-family="&quot;Liberation Serif&quot;, serif" font-size="80" text-anchor="middle" x="1178" y="2103.5">(<tspan font-weight="bold">b</tspan>)</text>
<path d="M406.1,2375.6 L409.9,2360.7 L416.1,2366.9 L418.5,2322.3 L424.2,2340.9 L428.4,2376.8 L432.6,2389.2 L438.3,2354.5 L442.1,2353.3 L444.5,2343.4 L449.0,2309.9 L452.5,2324.8 L455.7,2326.0 L459.9,2256.7 L463.6,2227.5 L466.8,2254.2 L469.3,2308.7 L472.3,2375.6 L474.3,2386.7 L478.0,2384.3 L480.5,2400.4 L482.9,2427.6 L488.6,2425.1 L492.1,2414.0 L496.1,2406.5 L500.3,2392.9 L504.0,2394.2 L508.4,2416.5 L511.9,2402.8 L516.9,2344.6 L521.3,2366.9 L525.0,2368.2 L528.0,2338.4 L531.2,2331.0 L534.2,2314.9 L536.7,2323.6 L539.4,2362.0 L544.9,2376.8 L547.3,2358.2 L550.3,2371.9 L554.0,2374.3 L558.5,2360.7 L562.2,2358.2 L565.2,2360.7 L567.6,2396.6 L572.1,2392.9 L575.8,2388.0 L578.3,2368.2 L584.5,2298.8 L588.2,2321.1 L593.2,2327.3 L599.3,2373.1 L601.8,2374.3 L606.8,2352.1 L610.0,2348.3 L615.0,2319.9 L617.9,2343.4 L622.9,2471.0 L626.6,2463.5 L634.8,2524.2 L637.7,2457.3 L640.2,2463.5 L643.4,2463.5 L647.6,2375.6 L651.4,2347.1 L654.6,2342.1 L658.8,2293.8 L663.0,2253.0 L666.2,2274.0 L668.7,2308.7 L671.2,2317.4 L674.9,2295.1 L677.4,2291.4 L679.9,2269.1 L683.6,2302.5 L686.8,2308.7 L689.0,2307.5 L693.5,2275.3 L699.7,2266.6 L705.9,2276.5 L708.3,2308.7 L710.8,2368.2 L713.3,2402.8 L716.5,2394.2 L719.5,2404.1 L724.4,2334.7 L728.2,2313.7 L731.1,2311.7 L735.6,2358.2 L738.6,2375.6 L741.8,2350.8 L746.7,2354.5 L749.7,2375.6 L754.7,2418.9 L758.6,2396.6 L761.1,2401.6 L764.1,2422.6 L769.0,2423.1 L775.2,2423.1 L778.4,2390.4 L783.9,2368.2 L788.8,2358.2 L792.1,2397.9 L795.0,2416.5 L798.2,2415.2 L803.2,2355.8 L806.2,2347.1 L808.7,2345.4 L814.1,2326.0 L817.5,2380.5 L820.4,2390.0 L823.2,2374.3 L826.1,2373.1 L828.6,2343.4 L831.1,2305.0 L834.3,2298.8 L839.3,2259.7 L842.2,2281.5 L846.0,2328.5 L848.4,2368.2 L851.4,2411.5 L854.6,2410.3 L859.6,2362.0 L862.6,2357.8 L868.3,2362.0 L871.5,2392.9 L874.4,2444.9 L878.9,2506.9 L882.4,2497.0 L886.8,2464.8 L890.5,2442.5 L893.0,2389.2 L896.7,2396.6 L900.5,2348.3 L904.2,2266.6 L907.1,2271.6 L910.4,2290.1 L913.6,2285.2 L917.1,2311.2 L921.5,2358.2 L925.2,2366.9 L928.4,2365.7 L929.7,2373.1 L932.2,2338.4 L935.1,2365.7 L937.6,2355.8 L943.8,2290.1 L949.3,2333.5 L952.0,2388.0 L954.9,2422.6 L958.2,2402.8 L961.1,2328.5 L963.1,2261.6 L966.1,2251.7 L969.8,2286.4 L972.3,2303.8 L974.8,2309.2 L978.0,2298.8 L981.0,2269.1 L983.4,2249.8 L986.4,2274.0 L989.6,2358.2 L992.1,2402.8 L994.6,2429.6 L997.1,2422.2 L1001.3,2425.1 L1004.5,2415.2 L1007.7,2388.0 L1011.2,2380.5 L1013.7,2340.9 L1016.9,2332.2 L1019.3,2343.4 L1022.6,2390.4 L1025.5,2423.9 L1029.3,2420.2 L1031.2,2407.8 L1033.7,2358.2 L1036.7,2345.9 L1039.2,2355.3 L1042.4,2352.1 L1044.9,2312.4 L1047.8,2358.2 L1050.8,2363.2 L1055.3,2331.0 L1059.0,2291.9 L1062.7,2311.2 L1065.7,2344.6 L1067.6,2378.1 L1070.6,2390.0 L1073.8,2380.5 L1078.8,2333.5 L1082.5,2279.0 L1085.5,2239.4 L1087.5,2234.9 L1090.4,2241.8 L1093.7,2276.5 L1097.4,2312.4 L1101.6,2348.3 L1104.1,2411.5 L1106.8,2425.1 L1109.8,2423.9 L1112.2,2447.4 L1115.5,2454.9 L1118.4,2427.6 L1120.9,2402.8 L1123.9,2433.8 L1127.1,2415.2 L1137.0,2305.0 L1140.7,2348.3 L1145.7,2405.3 L1148.9,2409.0 L1151.9,2400.4 L1154.8,2396.6 L1157.3,2340.9 L1160.0,2373.1 L1163.0,2379.3 L1166.0,2336.0 L1169.2,2324.8 L1172.2,2355.8 L1174.7,2354.5 L1177.9,2368.2 L1180.8,2366.9 L1184.1,2326.0 L1188.3,2303.8 L1191.5,2269.1 L1194.0,2250.5 L1196.5,2274.0 L1200.2,2318.6 L1203.9,2375.6 L1206.4,2417.7 L1208.1,2439.5 L1211.3,2435.0 L1213.8,2422.6 L1216.3,2373.1 L1218.7,2306.2 L1221.7,2283.9 L1224.9,2316.1 L1229.9,2327.3 L1233.6,2285.2 L1237.5,2308.7 L1241.2,2375.6 L1244.9,2407.8 L1249.4,2440.0 L1252.3,2409.0 L1255.3,2415.2 L1258.5,2440.5 L1261.8,2422.6 L1264.7,2365.7 L1268.4,2298.8 L1270.4,2269.1 L1272.2,2253.0 L1275.4,2283.9 L1278.3,2283.9 L1280.8,2269.1 L1283.3,2263.6 L1285.8,2288.9 L1289.0,2343.4 L1292.0,2383.0 L1295.2,2396.6 L1298.2,2383.0 L1300.6,2321.1 L1303.9,2298.8 L1306.8,2286.4 L1311.8,2284.4 L1314.8,2264.1 L1317.5,2244.3 L1320.5,2202.2 L1323.7,2184.9 L1325.9,2177.9 L1329.1,2194.8 L1331.6,2217.1 L1334.6,2259.2 L1337.3,2281.5 L1340.3,2301.8 L1344.0,2281.5 L1346.5,2262.9 L1348.9,2261.2 L1351.4,2279.0 L1353.9,2306.2 L1356.9,2316.1 L1360.8,2324.8 L1363.8,2343.4 L1366.3,2373.1 L1368.0,2399.1 L1370.7,2405.3 L1373.7,2388.0 L1376.7,2380.5 L1379.2,2390.9 L1381.6,2373.1 L1384.4,2360.7 L1387.3,2376.8 L1390.3,2389.2 L1393.5,2376.8 L1396.5,2376.1 L1399.7,2368.2 L1404.2,2324.8 L1407.1,2334.7 L1410.4,2345.4 L1412.8,2366.9 L1415.8,2365.7 L1418.8,2357.0 L1422.0,2397.9 L1424.5,2436.3 L1427.7,2435.5 L1430.7,2430.1 L1435.6,2388.0 L1441.1,2359.5 L1444.3,2385.5 L1449.3,2422.6 L1452.2,2447.9 L1455.4,2423.9 L1458.4,2421.4 L1460.9,2412.7 L1464.1,2432.6 L1466.6,2402.8 L1470.3,2324.8 L1472.0,2285.2 L1474.8,2282.7 L1477.7,2311.2 L1480.7,2348.3 L1483.4,2367.7 L1486.4,2355.8 L1490.1,2323.6 L1493.8,2276.5 L1497.1,2263.6 L1500.0,2276.5 L1502.5,2313.7 L1505.7,2314.9 L1508.7,2333.5 L1511.9,2363.2 L1514.9,2375.6 L1519.9,2381.8 L1525.3,2378.1 L1527.8,2357.0 L1532.2,2318.6 L1536.0,2281.5 L1539.2,2270.3 L1543.4,2268.6 L1546.6,2264.1 L1549.6,2246.8 L1553.3,2231.9 L1555.8,2251.7 L1559.5,2276.5 L1563.2,2318.6 L1567.4,2362.0 L1569.9,2353.3 L1573.1,2375.1 L1575.6,2360.7 L1578.8,2358.2 L1581.8,2395.4 L1584.3,2422.6 L1586.7,2421.4 L1589.9,2446.9 L1592.9,2435.0 L1596.6,2392.9 L1600.4,2353.3 L1604.1,2337.9 L1607.3,2358.2 L1610.3,2375.6 L1615.2,2369.4 L1618.4,2375.6 L1621.4,2400.4 L1624.4,2422.6 L1627.1,2420.2 L1630.1,2388.0 L1633.0,2343.4 L1635.5,2325.6 L1638.2,2345.9 L1641.2,2392.9 L1643.7,2422.6 L1646.2,2427.6 L1649.1,2410.3 L1652.4,2390.4 L1655.0,2389.2 L1660.1,2394.3 L1663.2,2380.2 L1665.8,2370.5 L1669.1,2371.2 L1671.7,2408.4 L1675.0,2418.1 L1677.6,2400.7 L1680.1,2336.6 L1682.4,2287.9 L1685.8,2282.8 L1688.3,2334.1 L1691.4,2377.1 L1694.7,2364.8 L1698.1,2334.1 L1701.1,2311.0 L1705.5,2314.8 L1708.1,2359.7 L1710.9,2411.0 L1714.0,2416.1 L1716.5,2375.1 L1719.1,2322.5 L1721.6,2330.2 L1724.7,2349.4 L1728.1,2369.9 L1731.1,2387.9 L1733.7,2391.7 L1735.7,2378.9 L1739.1,2381.5 L1742.2,2385.3 L1744.7,2382.8 L1747.3,2368.7 L1749.8,2366.1 L1752.9,2400.7 L1755.5,2431.5 L1758.3,2431.0 L1762.1,2398.1 L1766.0,2364.8 L1769.1,2313.0 L1771.6,2339.2 L1775.0,2372.5 L1778.0,2359.7 L1780.6,2330.2 L1783.2,2369.9 L1787.0,2439.2 L1791.6,2480.7 L1794.7,2459.7 L1798.5,2402.0 L1802.4,2359.7 L1806.2,2277.7 L1808.8,2243.8 L1811.9,2267.4 L1814.4,2318.7 L1817.0,2362.3 L1822.9,2371.2 L1825.5,2345.6 L1828.0,2358.4 L1830.6,2344.3 L1833.7,2321.2 L1837.0,2275.1 L1840.1,2298.2 L1843.4,2328.9 L1846.7,2352.0 L1851.9,2350.7 L1854.4,2361.0 L1857.5,2400.7 L1861.4,2427.6 L1865.2,2396.9 L1871.6,2399.4 L1875.4,2426.3 L1879.3,2454.0 L1882.6,2444.3 L1887.0,2382.8 L1890.1,2346.9 L1893.4,2339.2 L1898.5,2305.9 L1901.6,2323.8 L1904.9,2349.4 L1908.8,2387.9 L1912.6,2417.4 L1916.0,2422.5 L1918.5,2400.7 L1921.6,2334.1 L1924.2,2300.7 L1927.2,2295.6 L1929.8,2318.7 L1935.7,2326.4 L1938.3,2349.4 L1940.8,2381.5 L1943.4,2380.2 L1945.9,2417.4 L1949.8,2422.5 L1953.6,2398.1 L1958.8,2364.8 L1962.6,2316.1 L1965.9,2305.9 L1971.6,2311.0 L1974.1,2308.4 L1977.2,2259.7 L1980.5,2244.3 L1983.6,2264.8 L1985.7,2303.3 L1988.2,2337.9 L1991.3,2337.9 L1993.9,2291.8 L1997.2,2322.5 L2001.6,2318.2 L2004.9,2340.5 L2008.2,2358.4 L2011.3,2344.3 L2013.9,2321.2 L2016.9,2332.8 L2020.3,2341.7 L2025.4,2344.3 L2028.0,2385.3 L2031.3,2403.3 L2035.7,2373.8 L2038.7,2402.0 L2042.1,2406.3 L2045.9,2393.0 L2050.3,2377.6 L2053.6,2373.8 L2058.7,2345.6 L2061.8,2361.0 L2065.1,2305.9 L2066.9,2275.1 L2070.3,2273.0 L2072.8,2293.0 L2075.9,2321.2 L2079.2,2321.2 L2081.0,2313.5 L2082.6,2349.4 L2084.1,2452.0 L2085.6,2275.1 L2088.7,2265.4" fill="none" stroke="#000" stroke-width="3.5" stroke-linejoin="round"/>
<g stroke="#000" stroke-width="4.3" fill="none">
<path d="M404.8,2184.8 V2585.2"/>
<path d="M402.7,2563.6 H2119.5"/>
<path d="M383.2,2534.8 H404.8"/>
<path d="M393.3,2478.9 H404.8"/>
<path d="M383.2,2423.0 H404.8"/>
<path d="M393.3,2367.1 H404.8"/>
<path d="M383.2,2311.2 H404.8"/>
<path d="M393.3,2255.3 H404.8"/>
<path d="M383.2,2199.4 H404.8"/>
<path d="M545.2,2563.6 V2575.1"/>
<path d="M685.5,2563.6 V2585.2"/>
<path d="M825.9,2563.6 V2575.1"/>
<path d="M966.3,2563.6 V2585.2"/>
<path d="M1106.7,2563.6 V2575.1"/>
<path d="M1247.0,2563.6 V2585.2"/>
<path d="M1387.4,2563.6 V2575.1"/>
<path d="M1527.8,2563.6 V2585.2"/>
<path d="M1668.2,2563.6 V2575.1"/>
<path d="M1808.5,2563.6 V2585.2"/>
<path d="M1948.9,2563.6 V2575.1"/>
<path d="M2089.3,2563.6 V2585.2"/>
</g>
<path d="M404.8,2128.8 L389.3,2187.8 L420.3,2187.8 Z" fill="#000"/>
<path d="M2176.2,2563.6 L2116.5,2548.1 L2116.5,2579.1 Z" fill="#000"/>
<g font-family="&quot;Liberation Serif&quot;, serif" font-size="61.0" fill="#000">
<text x="365.8" y="2553.4" text-anchor="end">-4</text>
<text x="365.8" y="2441.6" text-anchor="end">0</text>
<text x="365.8" y="2329.8" text-anchor="end">4</text>
<text x="365.8" y="2218.0" text-anchor="end">8</text>
<text x="404.8" y="2649.6" text-anchor="middle">0</text>
<text x="685.5" y="2649.6" text-anchor="middle">50</text>
<text x="966.3" y="2649.6" text-anchor="middle">100</text>
<text x="1247.0" y="2649.6" text-anchor="middle">150</text>
<text x="1527.8" y="2649.6" text-anchor="middle">200</text>
<text x="1808.5" y="2649.6" text-anchor="middle">250</text>
<text x="2089.3" y="2649.6" text-anchor="middle">300</text>
</g>
<text font-family="&quot;Liberation Serif&quot;, serif" font-size="71" text-anchor="middle" transform="translate(247,2322) rotate(-90)">Power/kW</text>
<text font-family="&quot;Liberation Serif&quot;, serif" font-size="71" text-anchor="middle" x="1247.5" y="2757.8">Time/s</text>
<text font-family="&quot;Liberation Serif&quot;, serif" font-size="79" text-anchor="middle" x="1178" y="2860.5">(<tspan font-weight="bold">c</tspan>)</text>
</svg>
</body></html>
